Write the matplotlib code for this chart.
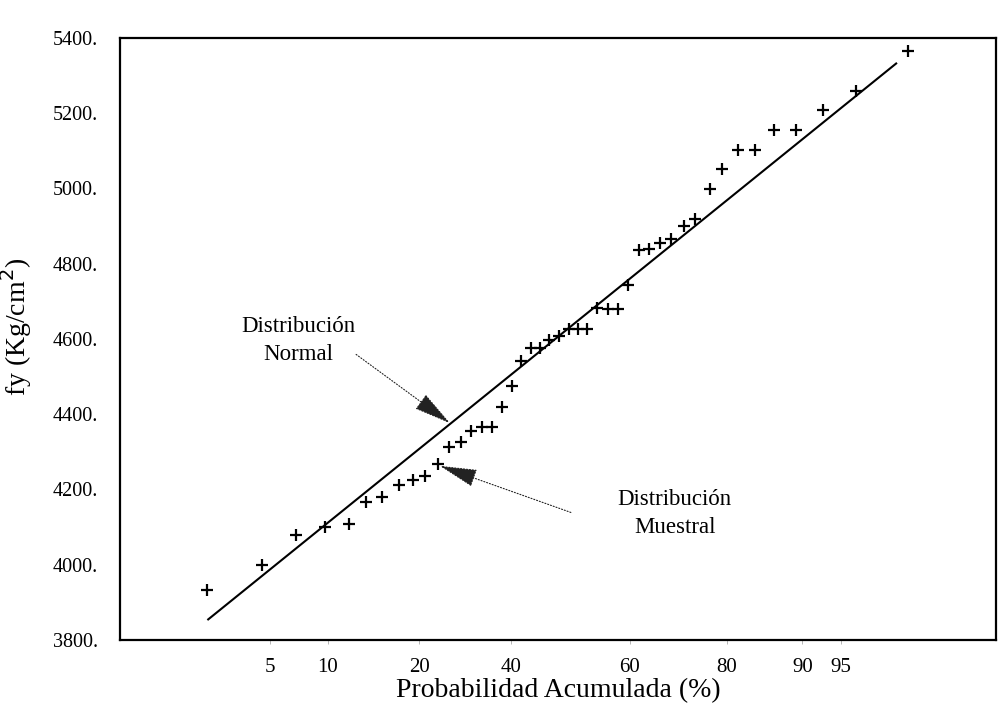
import matplotlib
matplotlib.use("Agg")
import matplotlib.pyplot as plt

plt.rcParams['font.family'] = ['Liberation Serif', 'DejaVu Serif']

# Sample points: horizontal position (normal score) and yield stress fy (Kg/cm2)
sample_z = [-2.020, -1.698, -1.503, -1.338, -1.200, -1.101, -1.011, -0.915, -0.830,
            -0.762, -0.690, -0.624, -0.556, -0.495, -0.433, -0.376, -0.322, -0.262,
            -0.210, -0.155, -0.098, -0.048, 0.009, 0.065, 0.116, 0.168, 0.227, 0.291,
            0.348, 0.406, 0.468, 0.526, 0.588, 0.656, 0.728, 0.790, 0.876, 0.947,
            1.041, 1.138, 1.249, 1.370, 1.527, 1.719, 2.020]
sample_fy = [3933, 3999, 4080, 4101, 4108, 4166, 4180, 4211, 4226,
             4235, 4268, 4314, 4326, 4356, 4365, 4366, 4420, 4474,
             4542, 4577, 4575, 4597, 4609, 4626, 4627, 4627, 4682, 4680,
             4681, 4743, 4837, 4838, 4855, 4867, 4900, 4920, 4998, 5052,
             5102, 5103, 5156, 5155, 5208, 5259, 5365]

# Fitted normal distribution line (end points)
fit_z = [-2.015, 1.954]
fit_fy = [3853, 5334]

# Axis ticks
x_tick_pos = [-1.653, -1.323, -0.795, -0.267, 0.416, 0.973, 1.409, 1.633]
x_tick_labels = ['5', '10', '20', '40', '60', '80', '90', '95']
y_ticks = [3800, 4000, 4200, 4400, 4600, 4800, 5000, 5200, 5400]
y_tick_labels = [f"{v}." for v in y_ticks]

fig = plt.figure(figsize=(9.99, 7.15), dpi=100)
ax = fig.add_axes([120 / 999, 75 / 715, 876 / 999, 602 / 715])

ax.plot(fit_z, fit_fy, color='black', lw=1.5, solid_capstyle='butt')
ax.plot(sample_z, sample_fy, linestyle='none', marker='+', color='black',
        markersize=9, markeredgewidth=1.6)

ax.set_xlim(-2.518, 2.524)
ax.set_ylim(3800, 5400)

ax.set_xticks(x_tick_pos)
ax.set_xticklabels(x_tick_labels, fontsize=15)
ax.set_yticks(y_ticks)
ax.set_yticklabels(y_tick_labels, fontsize=14.5)
ax.tick_params(axis='y', length=0, pad=16)
ax.tick_params(axis='x', length=3, width=0.5, color='#999999', pad=10)

for s in ax.spines.values():
    s.set_linewidth(1.6)

ax.set_xlabel('Probabilidad Acumulada (%)', fontsize=20)
ax.xaxis.set_label_coords(0.5, -0.063)
ax.set_ylabel('fy (Kg/cm$^2$)', fontsize=20)
ax.yaxis.set_label_coords(-0.098, 0.52)

arrow_props = dict(arrowstyle='-|>,head_length=1.6,head_width=0.38',
                   linestyle=':', lw=0.8, color='#222222',
                   mutation_scale=15, shrinkA=0, shrinkB=0)

# Annotations
ax.text(-1.489, 4596, 'Distribución\nNormal', ha='center', va='center',
        fontsize=16.5, linespacing=1.45)
ax.annotate('', xy=(-0.618, 4376), xytext=(-1.159, 4559), arrowprops=arrow_props)

ax.text(0.674, 4137, 'Distribución\nMuestral', ha='center', va='center',
        fontsize=16.5, linespacing=1.45)
ax.annotate('', xy=(-0.678, 4263), xytext=(0.077, 4139), arrowprops=arrow_props)

fig.savefig('out.png', dpi=100)
